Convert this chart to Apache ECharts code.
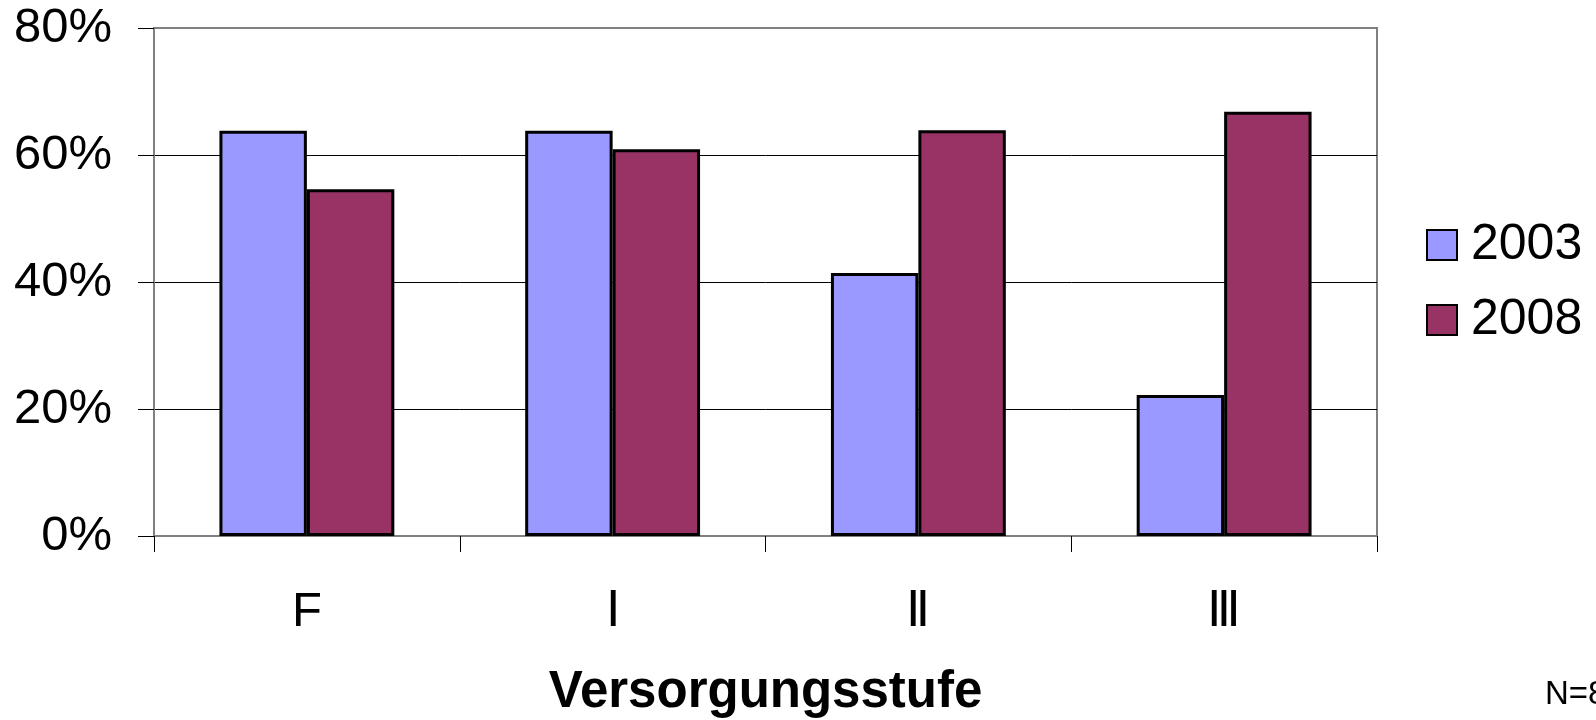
<!DOCTYPE html>
<html>
<head>
<meta charset="utf-8">
<script src="https://cdn.jsdelivr.net/npm/echarts@6/dist/echarts.min.js"></script>
<style>
html,body{margin:0;padding:0;background:#fff;}
#chart{width:1596px;height:720px;}
</style>
</head>
<body>
<div id="chart"></div>
<script>
var categories = ['F', 'Ⅰ', 'Ⅱ', 'Ⅲ'];
var seriesNames = ['2003', '2008'];
var values2003 = [63.8, 63.8, 41.4, 22.2];
var values2008 = [54.6, 60.9, 63.9, 66.8];
var yTicks = [0, 20, 40, 60, 80];
var axisTitle = 'Versorgungsstufe';
var noteText = 'N=8';

var chart = echarts.init(document.getElementById('chart'), null, {renderer: 'canvas'});
var FONT = '"Liberation Sans", Arial, sans-serif';
chart.setOption({
  animation: false,
  backgroundColor: '#ffffff',
  textStyle: {fontFamily: FONT, color: '#000'},
  grid: {left: 154, right: 219, top: 28, bottom: 184, show: true, borderColor: '#808080', borderWidth: 2,
         containLabel: false, outerBoundsMode: 'none'},
  legend: {
    orient: 'vertical', left: 1426, top: 220, padding: 0,
    itemWidth: 30, itemHeight: 30, itemGap: 25,
    icon: 'rect',
    textStyle: {fontSize: 50, fontFamily: FONT, color: '#000', lineHeight: 50, padding: [0, 0, 0, 9]},
    data: seriesNames
  },
  xAxis: {
    type: 'category', data: categories,
    axisLine: {show: true, lineStyle: {color: '#808080', width: 2}},
    axisTick: {show: true, length: 16, interval: 0, lineStyle: {color: '#000', width: 1}},
    axisLabel: {fontSize: 49, color: '#000', margin: 52, fontFamily: FONT},
    name: axisTitle, nameLocation: 'middle', nameGap: 131,
    nameTextStyle: {fontSize: 51, fontWeight: 'bold', color: '#000', fontFamily: FONT}
  },
  yAxis: {
    type: 'value', min: yTicks[0], max: yTicks[yTicks.length - 1], interval: 20,
    axisLine: {show: true, lineStyle: {color: '#808080', width: 2}},
    axisTick: {show: true, length: 16, lineStyle: {color: '#000', width: 1}},
    axisLabel: {fontSize: 49, color: '#000', margin: 42, formatter: '{value}%', fontFamily: FONT},
    splitLine: {show: true, lineStyle: {color: ['#808080', '#000', '#000', '#000', '#808080'], width: 1}}
  },
  graphic: [{
    type: 'text', left: 1545, top: 678,
    style: {text: noteText, fontSize: 33, fill: '#000', fontFamily: FONT}
  }],
  series: [
    {name: seriesNames[0], type: 'bar', data: values2003, barGap: '0%', barCategoryGap: '42.8%',
     itemStyle: {color: '#9999FF', borderColor: '#000', borderWidth: 3}},
    {name: seriesNames[1], type: 'bar', data: values2008, barGap: '0%', barCategoryGap: '42.8%',
     itemStyle: {color: '#993366', borderColor: '#000', borderWidth: 3}}
  ]
});
</script>
</body>
</html>
